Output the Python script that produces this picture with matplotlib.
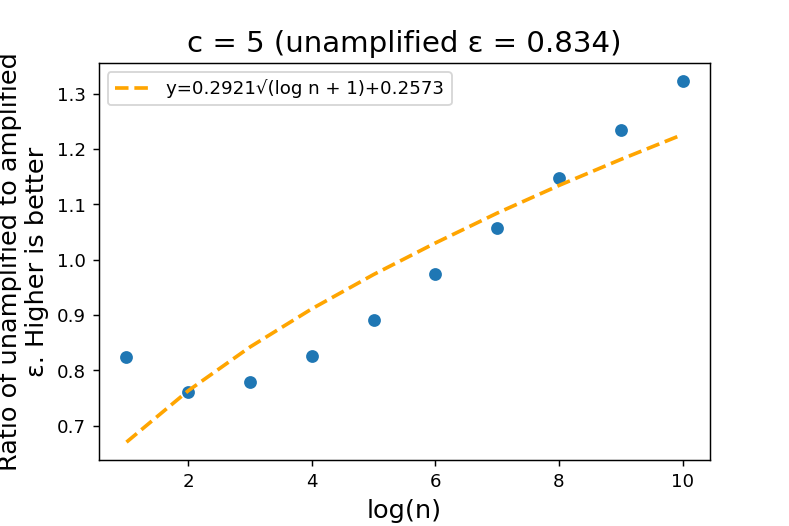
import matplotlib
matplotlib.use("Agg")
import matplotlib.pyplot as plt

log_n = [1, 2, 3, 4, 5, 6, 7, 8, 9, 10]
ratio = [0.823, 0.761, 0.779, 0.826, 0.891, 0.973, 1.057, 1.148, 1.234, 1.323]
fit_values = [0.670, 0.763, 0.842, 0.911, 0.973, 1.030, 1.084, 1.134, 1.181, 1.226]
fit_label = "y=0.2921\u221a(log n + 1)+0.2573"
title = "c = 5 (unamplified \u03b5 = 0.834)"
xlabel = "log(n)"
ylabel = "Ratio of unamplified to amplified\n\u03b5. Higher is better"

dpi = 131.5
fig = plt.figure(figsize=(789.4 / dpi, 526.4 / dpi), dpi=dpi)
ax = fig.add_axes([0.125, 0.125, 0.775, 0.755])
ax.scatter(log_n, ratio)
ax.plot(log_n, fit_values, linestyle="--", color="orange", linewidth=2, label=fit_label)
ax.set_title(title, fontsize=16)
ax.set_xlabel(xlabel, fontsize=14)
ax.set_ylabel(ylabel, fontsize=14)
ax.legend(loc="upper left")
fig.savefig("out.png", dpi=dpi)
